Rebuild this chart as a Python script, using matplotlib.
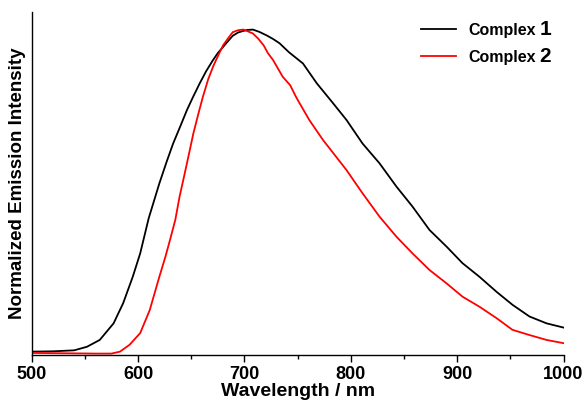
import matplotlib
matplotlib.use("Agg")
import matplotlib.pyplot as plt

# values, normalised so that each peak is 1
wl_1 = [500, 520, 540, 552, 564, 577, 586, 595, 602, 610, 620, 627, 633, 640,
        646, 652, 658, 664, 670, 675, 680, 685, 689, 694, 699, 703, 708, 714,
        721, 727, 733, 742, 755, 768, 783, 796, 811, 827, 843, 858, 874, 890,
        905, 921, 937, 952, 968, 984, 1000]
int_1 = [0.010, 0.011, 0.014, 0.025, 0.046, 0.097, 0.159, 0.240, 0.312, 0.420,
         0.527, 0.595, 0.650, 0.705, 0.753, 0.795, 0.835, 0.872, 0.904, 0.928,
         0.947, 0.966, 0.981, 0.991, 0.996, 0.999, 1.000, 0.993, 0.982, 0.971,
         0.958, 0.930, 0.896, 0.835, 0.775, 0.722, 0.650, 0.589, 0.517, 0.456,
         0.384, 0.333, 0.282, 0.240, 0.194, 0.154, 0.118, 0.097, 0.084]

wl_2 = [500, 530, 560, 575, 583, 592, 602, 611, 620, 626, 630, 635, 639, 643,
        648, 652, 657, 661, 666, 671, 676, 680, 685, 689, 694, 699, 703, 708,
        713, 718, 722, 727, 736, 743, 749, 761, 774, 780, 796, 811, 827, 843,
        858, 874, 890, 905, 921, 937, 952, 968, 984, 1000]
int_2 = [0.006, 0.005, 0.004, 0.004, 0.010, 0.031, 0.067, 0.138, 0.240, 0.305,
         0.353, 0.415, 0.486, 0.545, 0.620, 0.681, 0.745, 0.794, 0.848, 0.890,
         0.925, 0.952, 0.975, 0.992, 0.998, 1.000, 0.995, 0.988, 0.972, 0.952,
         0.928, 0.906, 0.855, 0.829, 0.790, 0.722, 0.660, 0.635, 0.568, 0.497,
         0.425, 0.363, 0.312, 0.261, 0.220, 0.179, 0.148, 0.113, 0.077, 0.061,
         0.046, 0.036]

labels = ["Complex", "Complex"]
numbers = ["1", "2"]

plt.rcParams["font.family"] = ["Liberation Sans", "DejaVu Sans"]
plt.rcParams["font.weight"] = "bold"

fig = plt.figure(figsize=(5.87, 4.01), dpi=100)
ax = fig.add_axes([0.054, 0.115, 0.906, 0.855])

ax.plot(wl_1, int_1, color="black", linewidth=1.3, label=labels[0])
ax.plot(wl_2, int_2, color="red", linewidth=1.3, label=labels[1])

ax.set_xlim(500, 1000)
ax.set_ylim(0, 1.054)
ax.set_xticks(range(500, 1001, 100))
ax.set_xticks(range(550, 1000, 100), minor=True)
ax.set_yticks([])
ax.tick_params(axis="x", which="major", length=5, width=1, labelsize=13, pad=3)
ax.tick_params(axis="x", which="minor", length=3, width=1)
for s in ["top", "right"]:
    ax.spines[s].set_visible(False)
for s in ["left", "bottom"]:
    ax.spines[s].set_linewidth(1.0)

ax.set_xlabel("Wavelength / nm", fontsize=14, fontweight="bold", labelpad=0)
ax.set_ylabel("Normalized Emission Intensity", fontsize=13.5, fontweight="bold", labelpad=4)

leg = ax.legend(loc="upper left", bbox_to_anchor=(0.705, 1.01), frameon=False,
                fontsize=11.5, handlelength=2.2, handletextpad=0.75, labelspacing=0.75)
fig.canvas.draw()
W, H = fig.canvas.get_width_height()
for txt, num in zip(leg.get_texts(), numbers):
    bb = txt.get_window_extent()
    fig.text((bb.x1 + 4) / W, (bb.y0 + bb.y1) / 2 / H + 0.003, num, fontsize=15,
             fontweight="bold", va="center", ha="left")

fig.savefig("out.png", dpi=100)
